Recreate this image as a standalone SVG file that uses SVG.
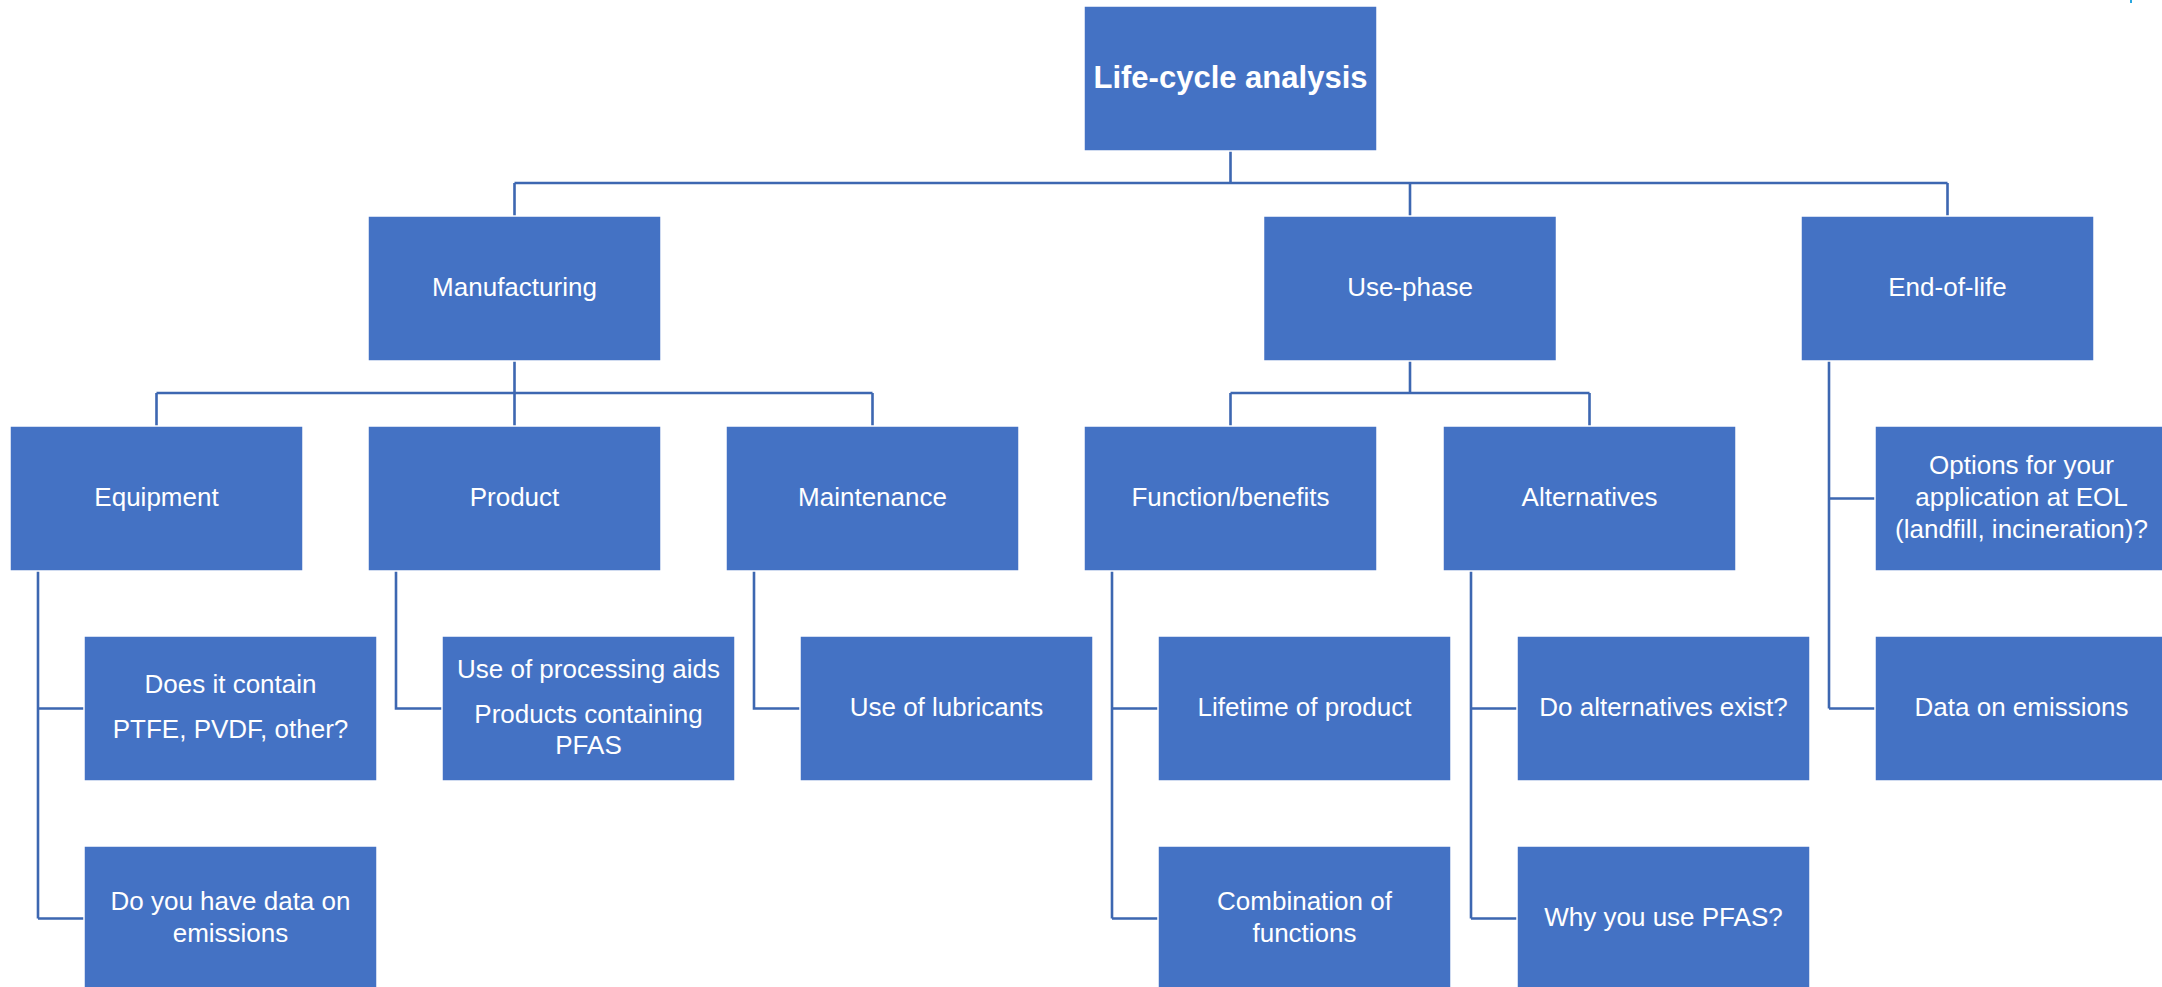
<svg xmlns="http://www.w3.org/2000/svg" width="2162" height="987" viewBox="0 0 2162 987">
<style>
.box{fill:#4472C4;stroke:#ffffff;stroke-width:1.5}
.t{fill:#ffffff;font-family:"Liberation Sans",Arial,sans-serif;font-size:26px;text-anchor:middle}
.title{font-weight:bold;font-size:31px}
.c{fill:none;stroke:#3D67B1;stroke-width:2.6}
</style>
<rect width="2162" height="987" fill="#ffffff"/>
<rect x="2130" y="0" width="2" height="3" fill="#29A8E0"/>
<g id="connectors">
<path class="c" d="M1230.5 151V183M514.5 183H1947.5M514.5 183V216M1410 183V216M1947.5 183V216"/>
<path class="c" d="M514.5 361V393M156.5 393H872.5M156.5 393V426M514.5 393V426M872.5 393V426"/>
<path class="c" d="M1410 361V393M1230.5 393H1589.5M1230.5 393V426M1589.5 393V426"/>
<path class="c" d="M1829 361V708.5M1829 498.5H1875M1829 708.5H1875"/>
<path class="c" d="M38 571V918.5M38 708.5H84M38 918.5H84"/>
<path class="c" d="M396 571V708.5H442"/>
<path class="c" d="M754 571V708.5H800"/>
<path class="c" d="M1112 571V918.5M1112 708.5H1158M1112 918.5H1158"/>
<path class="c" d="M1471 571V918.5M1471 708.5H1517M1471 918.5H1517"/>
</g>
<g id="life-cycle"><rect class="box" x="1084" y="6" width="293" height="145"/><text class="t title" x="1230.5" y="88">Life-cycle analysis</text></g>
<g id="manufacturing"><rect class="box" x="368" y="216" width="293" height="145"/><text class="t" x="514.5" y="296">Manufacturing</text></g>
<g id="use-phase"><rect class="box" x="1263.5" y="216" width="293" height="145"/><text class="t" x="1410" y="296">Use-phase</text></g>
<g id="end-of-life"><rect class="box" x="1801" y="216" width="293" height="145"/><text class="t" x="1947.5" y="296">End-of-life</text></g>
<g id="equipment"><rect class="box" x="10" y="426" width="293" height="145"/><text class="t" x="156.5" y="506">Equipment</text></g>
<g id="product"><rect class="box" x="368" y="426" width="293" height="145"/><text class="t" x="514.5" y="506">Product</text></g>
<g id="maintenance"><rect class="box" x="726" y="426" width="293" height="145"/><text class="t" x="872.5" y="506">Maintenance</text></g>
<g id="function-benefits"><rect class="box" x="1084" y="426" width="293" height="145"/><text class="t" x="1230.5" y="506">Function/benefits</text></g>
<g id="alternatives"><rect class="box" x="1443" y="426" width="293" height="145"/><text class="t" x="1589.5" y="506">Alternatives</text></g>
<g id="eol-options"><rect class="box" x="1875" y="426" width="293" height="145"/><text class="t" x="2021.5" y="474">Options for your</text><text class="t" x="2021.5" y="506">application at EOL</text><text class="t" x="2021.5" y="538">(landfill, incineration)?</text></g>
<g id="does-it-contain"><rect class="box" x="84" y="636" width="293" height="145"/><text class="t" x="230.5" y="693">Does it contain</text><text class="t" x="230.5" y="738">PTFE, PVDF, other?</text></g>
<g id="processing-aids"><rect class="box" x="442" y="636" width="293" height="145"/><text class="t" x="588.5" y="678">Use of processing aids</text><text class="t" x="588.5" y="723">Products containing</text><text class="t" x="588.5" y="754">PFAS</text></g>
<g id="lubricants"><rect class="box" x="800" y="636" width="293" height="145"/><text class="t" x="946.5" y="716">Use of lubricants</text></g>
<g id="lifetime"><rect class="box" x="1158" y="636" width="293" height="145"/><text class="t" x="1304.5" y="716">Lifetime of product</text></g>
<g id="alternatives-exist"><rect class="box" x="1517" y="636" width="293" height="145"/><text class="t" x="1663.5" y="716">Do alternatives exist?</text></g>
<g id="eol-emissions"><rect class="box" x="1875" y="636" width="293" height="145"/><text class="t" x="2021.5" y="716">Data on emissions</text></g>
<g id="emissions-data"><rect class="box" x="84" y="846" width="293" height="145"/><text class="t" x="230.5" y="910">Do you have data on</text><text class="t" x="230.5" y="942">emissions</text></g>
<g id="combination"><rect class="box" x="1158" y="846" width="293" height="145"/><text class="t" x="1304.5" y="910">Combination of</text><text class="t" x="1304.5" y="942">functions</text></g>
<g id="why-pfas"><rect class="box" x="1517" y="846" width="293" height="145"/><text class="t" x="1663.5" y="926">Why you use PFAS?</text></g>
</svg>
